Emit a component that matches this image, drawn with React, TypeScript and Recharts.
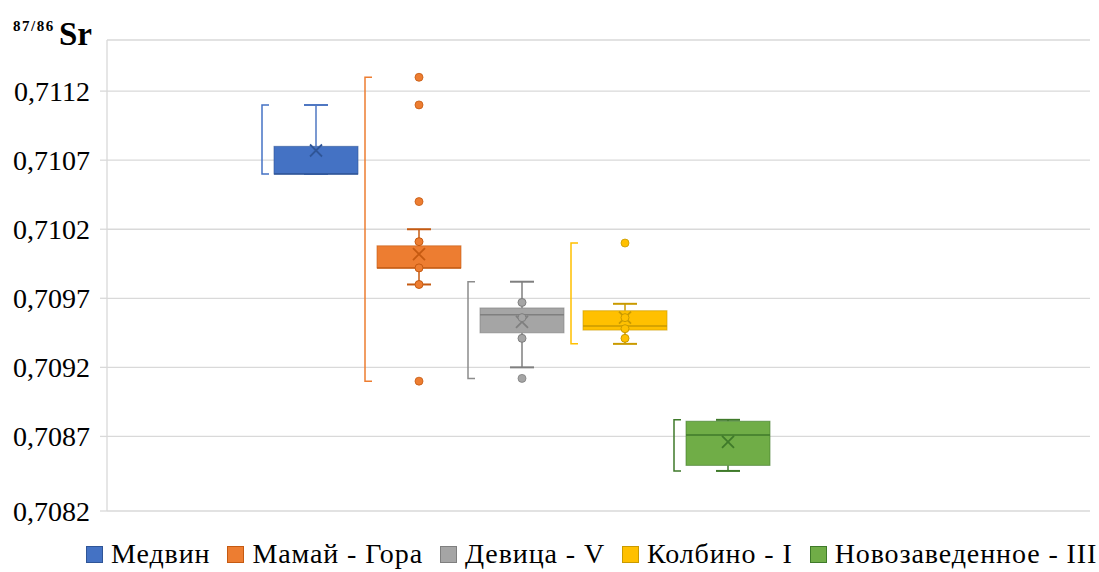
import React from "react"
import { ComposedChart, Bar, XAxis, YAxis, CartesianGrid, Customized } from "recharts"

const categories = ["Медвин", "Мамай - Гора", "Девица - V", "Колбино - I", "Новозаведенное - III"]
const whiskerLow = [0.7106, 0.7098, 0.7092, 0.70937, 0.70845]
const q1 = [0.7106, 0.70992, 0.70945, 0.70947, 0.70849]
const median = [0.7106, 0.70992, 0.70958, 0.7095, 0.70871]
const q3 = [0.7108, 0.71008, 0.70963, 0.70961, 0.70881]
const whiskerHigh = [0.7111, 0.7102, 0.70982, 0.70966, 0.70882]
const means = [0.71077, 0.71002, 0.70953, 0.70956, 0.70866]
const innerPoints = [[], [0.71011, 0.70992, 0.7098], [0.70967, 0.70956, 0.70941], [0.70956, 0.70948, 0.70941], []]
const outliers = [[], [0.7113, 0.7111, 0.7104, 0.7091], [0.70912], [0.7101], []]

const yTicks = [0.70816, 0.7087, 0.7092, 0.7097, 0.7102, 0.7107, 0.7112]
const yTickLabels = ["0,7082", "0,7087", "0,7092", "0,7097", "0,7102", "0,7107", "0,7112"]

const fills = ["#4472C4", "#ED7D31", "#A5A5A5", "#FFC000", "#70AD47"]
const darks = ["#2F5597", "#C55A11", "#7F7F7F", "#C99A00", "#3F7A2A"]
const whiskerColors = ["#4F77C2", "#C55A11", "#7F7F7F", "#C99A00", "#3F7A2A"]
const brackets = ["#4472C4", "#ED7D31", "#8C8C8C", "#FFC000", "#3F7A2A"]

const rows = categories.map((name, i) => {
  const all = [whiskerLow[i], whiskerHigh[i], q1[i], q3[i], ...innerPoints[i], ...outliers[i]]
  return {
    name,
    idx: i,
    range: [Math.min(...all), Math.max(...all)],
  }
})

const FONT = "'Liberation Serif', 'Times New Roman', serif"

function BoxShape(props: any) {
  const { x, y, width, height, payload } = props
  const i = payload.idx
  const [lo, hi] = payload.range
  const top = Math.min(y, y + height)
  const h = Math.abs(height)
  // linear position between the two ends the y scale gave this bar
  const py = (v: number) => top + ((hi - v) / (hi - lo)) * h
  const cx = x + width / 2
  const fill = fills[i]
  const dark = darks[i]
  const wc = whiskerColors[i]
  const bx = x - 12
  const yHi = py(hi)
  const yLo = py(lo)
  const m = py(means[i])
  return (
    <g>
      {/* range bracket */}
      <path
        d={`M${bx + 7},${yHi} H${bx} V${yLo} H${bx + 7}`}
        fill="none"
        stroke={brackets[i]}
        strokeWidth={1.5}
      />
      {/* whiskers */}
      <line x1={cx} x2={cx} y1={py(q3[i])} y2={py(whiskerHigh[i])} stroke={wc} strokeWidth={1.5} />
      <line x1={cx} x2={cx} y1={py(q1[i])} y2={py(whiskerLow[i])} stroke={wc} strokeWidth={1.5} />
      <line x1={cx - 12} x2={cx + 12} y1={py(whiskerHigh[i])} y2={py(whiskerHigh[i])} stroke={wc} strokeWidth={2} />
      <line x1={cx - 12} x2={cx + 12} y1={py(whiskerLow[i])} y2={py(whiskerLow[i])} stroke={wc} strokeWidth={2} />
      {/* box */}
      <rect
        x={x}
        y={py(q3[i])}
        width={width}
        height={Math.max(py(q1[i]) - py(q3[i]), 1)}
        fill={fill}
        stroke={dark}
        strokeOpacity={0.6}
        strokeWidth={1}
      />
      <line x1={x} x2={x + width} y1={py(median[i])} y2={py(median[i])} stroke={dark} strokeWidth={1.5} />
      {/* mean */}
      <path
        d={`M${cx - 6},${m - 6} L${cx + 6},${m + 6} M${cx - 6},${m + 6} L${cx + 6},${m - 6}`}
        stroke={dark}
        strokeWidth={1.8}
      />
      {innerPoints[i].map((v, k) => (
        <circle key={"in" + k} cx={cx} cy={py(v)} r={4} fill={fill} stroke={dark} strokeWidth={1} />
      ))}
      {outliers[i].map((v, k) => (
        <circle key={"out" + k} cx={cx} cy={py(v)} r={4} fill={fill} stroke={dark} strokeWidth={0.8} />
      ))}
    </g>
  )
}

function AxisTitle() {
  return (
    <g fontFamily={FONT} fontWeight="bold" fill="#000">
      <text x={13} y={31} fontSize={15} letterSpacing={1.5}>87/86</text>
      <text x={59} y={45} fontSize={33}>Sr</text>
    </g>
  )
}

export default function App() {
  return (
    <div style={{ position: "absolute", left: 0, top: 0, width: 1099, height: 572, background: "#fff" }}>
      <ComposedChart
        width={1099}
        height={572}
        data={rows}
        margin={{ top: 40, right: 9, left: 0, bottom: 61 }}
      >
        <CartesianGrid vertical={false} stroke="#d9d9d9" strokeWidth={1.3} />
        <XAxis dataKey="name" type="category" hide padding={{ left: 157, right: 311 }} />
        <YAxis
          type="number"
          domain={[0.70816, 0.71157]}
          ticks={yTicks}
          width={107}
          interval={0}
          allowDataOverflow
          tickFormatter={(v: number, i: number) => yTickLabels[i]}
          tick={{ fontFamily: FONT, fontSize: 28, fill: "#000" }}
          tickSize={7}
          tickMargin={10}
          stroke="#d9d9d9"
          axisLine={{ stroke: "#d9d9d9", strokeWidth: 1.3 }}
          tickLine={{ stroke: "#d9d9d9", strokeWidth: 1.3 }}
        />
        <Bar dataKey="range" barSize={84} shape={BoxShape} isAnimationActive={false} />
        <Customized component={AxisTitle} />
      </ComposedChart>
      <div
        style={{
          position: "absolute",
          left: 86,
          top: 538,
          display: "flex",
          alignItems: "center",
          fontFamily: FONT,
          fontSize: 28,
          letterSpacing: 0.9,
          color: "#000",
          whiteSpace: "nowrap",
        }}
      >
        {categories.map((c, i) => (
          <div key={c} style={{ display: "flex", alignItems: "center", marginRight: 17 }}>
            <span
              style={{
                display: "inline-block",
                width: 17,
                height: 17,
                background: fills[i],
                border: `1px solid ${darks[i]}`,
                boxSizing: "border-box",
                marginRight: 8,
              }}
            />
            <span>{c}</span>
          </div>
        ))}
      </div>
    </div>
  )
}
